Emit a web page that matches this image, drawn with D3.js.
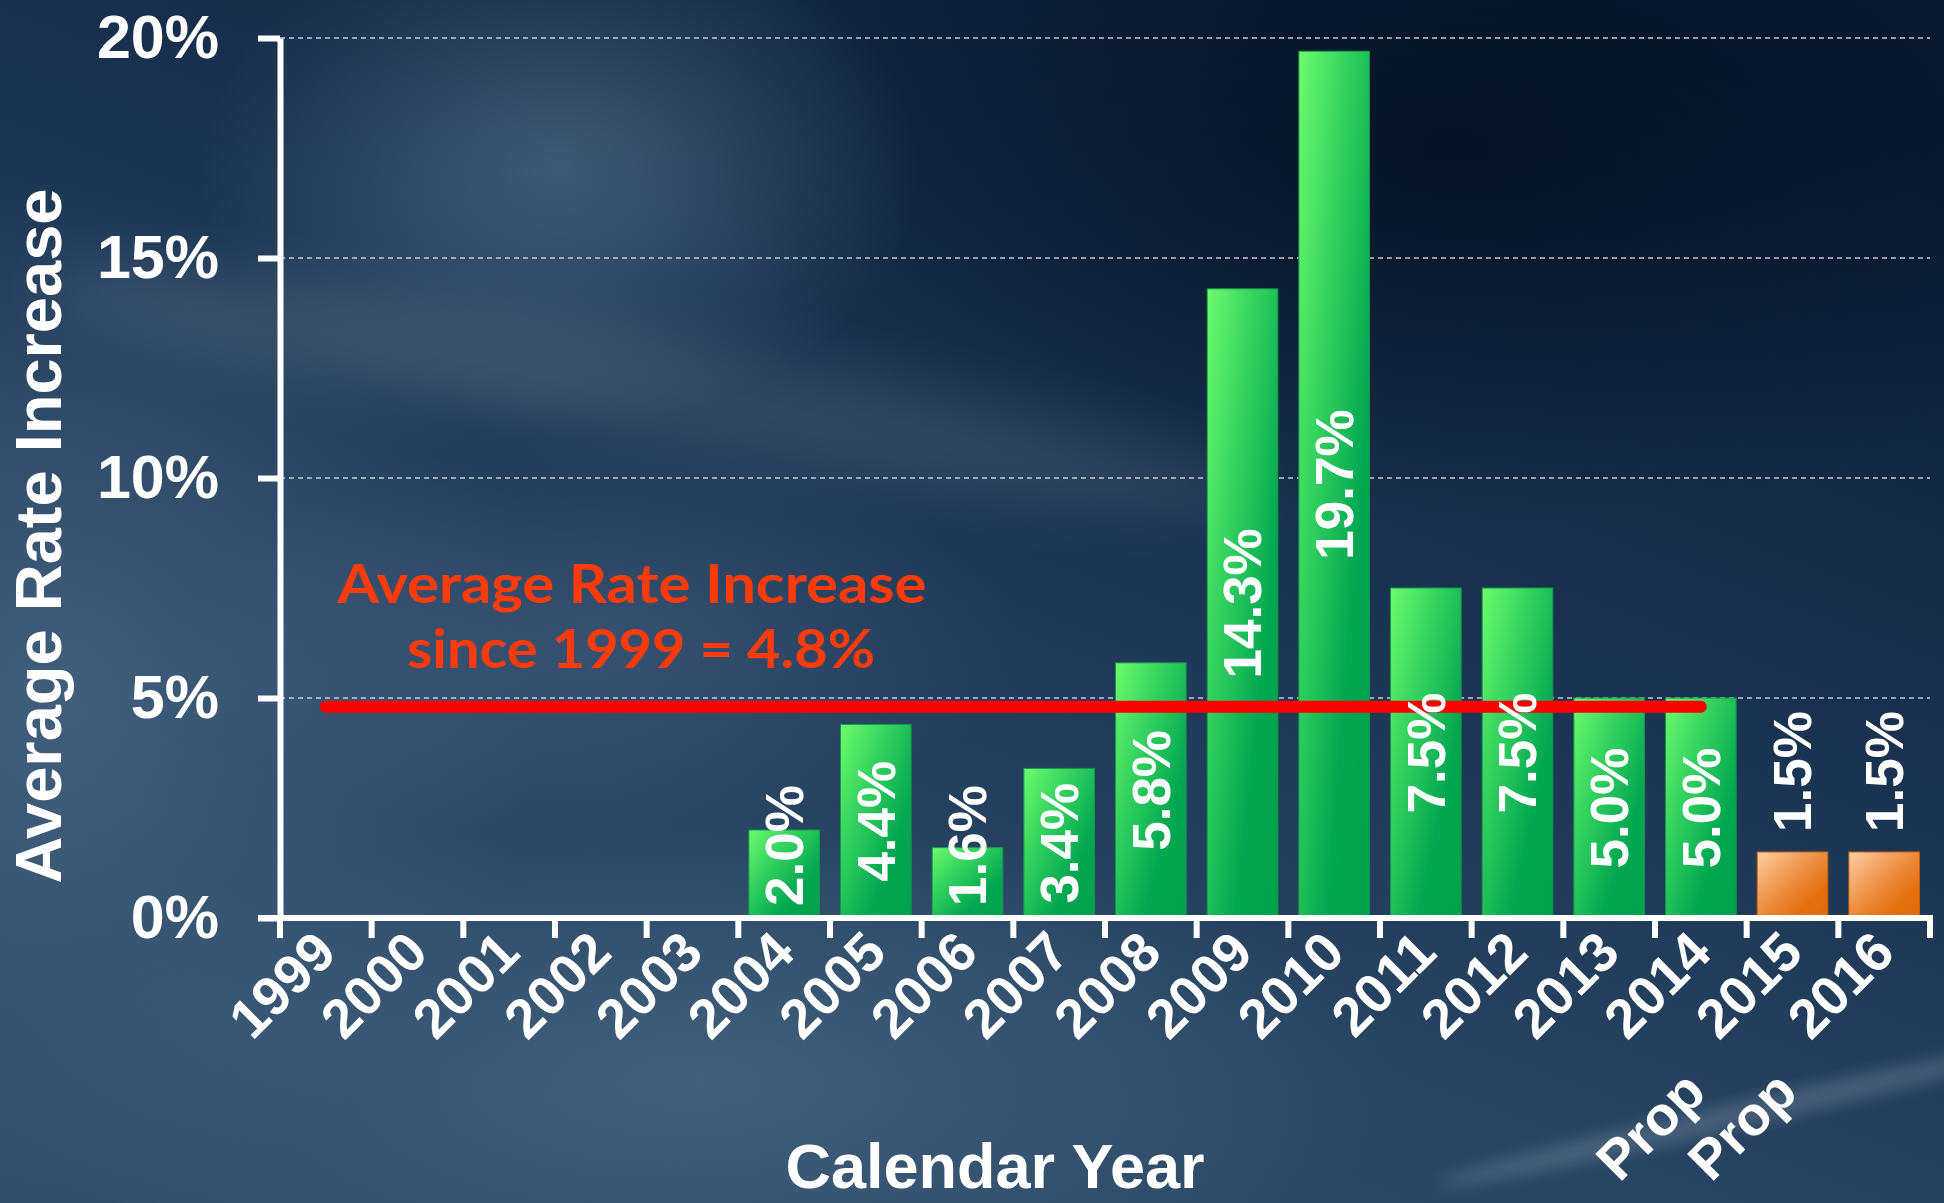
<!DOCTYPE html>
<html><head><meta charset="utf-8">
<script src="https://cdn.jsdelivr.net/npm/d3@7/dist/d3.min.js"></script>
<style>html,body{margin:0;padding:0;background:#1b3350;overflow:hidden}</style>
</head><body>
<svg id="chart" width="1944" height="1203"></svg>
<script>
// ---- data ----
const years = ["1999","2000","2001","2002","2003","2004","2005","2006","2007","2008",
               "2009","2010","2011","2012","2013","2014","Prop 2015","Prop 2016"];
const rateIncrease = [0,0,0,0,0,2.0,4.4,1.6,3.4,5.8,14.3,19.7,7.5,7.5,5.0,5.0,1.5,1.5];
const isProposed = [false,false,false,false,false,false,false,false,false,false,
                    false,false,false,false,false,false,true,true];
const yTicks = [0,5,10,15,20];
const avgRate = 4.8;
const avgFrom = "1999", avgTo = "2014";
const avgLabel = ["Average Rate Increase","since 1999 = 4.8%"];
const yTitle = "Average Rate Increase";
const xTitle = "Calendar Year";

const W = 1944, H = 1203;
const svg = d3.select("#chart");
const defs = svg.append("defs");

// ---- background ----
function radial(id, stops){
  const g = defs.append("radialGradient").attr("id", id);
  stops.forEach(s => g.append("stop").attr("offset", s[0]).attr("stop-color", s[1]).attr("stop-opacity", s[2]));
}
const lg = defs.append("linearGradient").attr("id","bgLin").attr("x1",0.8).attr("y1",0).attr("x2",0.2).attr("y2",1);
[[0,"#0a1c33"],[0.35,"#18304e"],[0.7,"#294564"],[1,"#304c6b"]].forEach(s=>lg.append("stop").attr("offset",s[0]).attr("stop-color",s[1]));
radial("glowA", [[0,"#7d98b3",0.4],[1,"#7d98b3",0]]);
radial("glowB", [[0,"#5d7a98",0.45],[1,"#5d7a98",0]]);
radial("darkA", [[0,"#040f1e",0.75],[1,"#040f1e",0]]);
defs.append("filter").attr("id","blur30").attr("x","-50%").attr("y","-50%").attr("width","200%").attr("height","200%")
  .append("feGaussianBlur").attr("stdDeviation",30);
defs.append("filter").attr("id","blur8").attr("x","-50%").attr("y","-50%").attr("width","200%").attr("height","200%")
  .append("feGaussianBlur").attr("stdDeviation",8);

const bg = svg.append("g");
bg.append("rect").attr("width",W).attr("height",H).attr("fill","url(#bgLin)");
bg.append("ellipse").attr("cx",1450).attr("cy",150).attr("rx",750).attr("ry",380).attr("fill","url(#darkA)");
bg.append("ellipse").attr("cx",560).attr("cy",170).attr("rx",360).attr("ry",260).attr("fill","url(#glowA)");
bg.append("ellipse").attr("cx",60).attr("cy",700).attr("rx",480).attr("ry",520).attr("fill","url(#glowB)");
bg.append("ellipse").attr("cx",600).attr("cy",640).attr("rx",420).attr("ry",200).attr("fill","url(#glowB)").attr("opacity",0.7);
bg.append("ellipse").attr("cx",700).attr("cy",1080).attr("rx",700).attr("ry",260).attr("fill","url(#glowB)");
bg.append("ellipse").attr("cx",650).attr("cy",390).attr("rx",620).attr("ry",55)
  .attr("transform","rotate(10 650 390)").attr("fill","#ffffff").attr("opacity",0.09).attr("filter","url(#blur30)");
bg.append("ellipse").attr("cx",1760).attr("cy",1110).attr("rx",330).attr("ry",12)
  .attr("transform","rotate(-13 1760 1110)").attr("fill","#ffffff").attr("opacity",0.16).attr("filter","url(#blur8)");

// ---- bar gradients ----
const gg = defs.append("linearGradient").attr("id","gGreen").attr("x1",0).attr("y1",0).attr("x2",1).attr("y2",1);
[[0,"#6efb6e"],[0.35,"#33d15f"],[0.7,"#03a651"],[1,"#00a14d"]].forEach(s=>gg.append("stop").attr("offset",s[0]).attr("stop-color",s[1]));
const go = defs.append("linearGradient").attr("id","gOrange").attr("x1",0).attr("y1",0).attr("x2",1).attr("y2",1);
[[0,"#fbd0a6"],[0.45,"#ee9045"],[0.75,"#e3700f"],[1,"#e06a0a"]].forEach(s=>go.append("stop").attr("offset",s[0]).attr("stop-color",s[1]));

// ---- scales ----
const x = d3.scaleBand().domain(years).range([280,1930]).paddingInner(0.23).paddingOuter(0.115);
const y = d3.scaleLinear().domain([0,20]).range([918,38]);
const step = x.step(), x0 = x.range()[0];
const FONT = "'Liberation Sans', Arial, sans-serif";

// ---- gridlines ----
svg.append("g").selectAll("line").data(yTicks.filter(d=>d>0)).join("line")
  .attr("x1",x0).attr("x2",x.range()[1]).attr("y1",d=>y(d)).attr("y2",d=>y(d))
  .attr("stroke","#dfe4ea").attr("stroke-width",1.6).attr("stroke-dasharray","5,4").attr("opacity",0.85);

// ---- bars ----
const data = years.map((d,i)=>({year:d, v:rateIncrease[i], prop:isProposed[i]})).filter(d=>d.v>0);
svg.append("g").selectAll("rect").data(data).join("rect")
  .attr("x",d=>x(d.year)).attr("y",d=>y(d.v))
  .attr("width",x.bandwidth()).attr("height",d=>y(0)-y(d.v))
  .attr("fill",d=>d.prop?"url(#gOrange)":"url(#gGreen)")
  .attr("stroke",d=>d.prop?"#c8600c":"#129a48").attr("stroke-width",1);

// ---- average line ----
svg.append("line")
  .attr("x1",x(avgFrom)+x.bandwidth()/2).attr("x2",x(avgTo)+x.bandwidth()/2)
  .attr("y1",y(avgRate)).attr("y2",y(avgRate))
  .attr("stroke","#ff0000").attr("stroke-width",12).attr("stroke-linecap","round");

// ---- bar labels ----
const fs = 53, cap = 0.716*fs;
const lab = svg.append("g").selectAll("text").data(data).join("text")
  .attr("fill","#fff").attr("font-family",FONT).attr("font-weight","bold").attr("font-size",fs)
  .text(d=>d.v.toFixed(1)+"%");
lab.each(function(d){
  const len = this.getComputedTextLength();
  const cx = x(d.year)+x.bandwidth()/2 + cap/2;
  let cy, anchor;
  if(d.prop){ cy = y(d.v)-20; anchor="start"; }
  else { cy = Math.min((y(d.v)+y(0))/2, y(0)-12-len/2); anchor="middle"; }
  d3.select(this).attr("text-anchor",anchor).attr("transform",`translate(${cx},${cy}) rotate(-90)`);
});

// ---- axes ----
const yAxis = d3.axisLeft(y).tickValues(yTicks).tickFormat(d=>d+"%").tickSize(22).tickSizeOuter(0).tickPadding(39);
const gy = svg.append("g").attr("transform",`translate(${x0},0)`).call(yAxis);
gy.select(".domain").attr("stroke","#fff").attr("stroke-width",6);
gy.selectAll(".tick line").attr("stroke","#fff").attr("stroke-width",6);
gy.selectAll(".tick text").attr("fill","#fff").attr("font-family",FONT).attr("font-weight","bold").attr("font-size",61);

// x axis: line + boundary ticks
const gx = svg.append("g");
gx.append("line").attr("x1",x0-22).attr("x2",x.range()[1]+3).attr("y1",y(0)).attr("y2",y(0))
  .attr("stroke","#fff").attr("stroke-width",6);
gx.selectAll("line.tk").data(d3.range(years.length+1)).join("line").attr("class","tk")
  .attr("x1",i=>x0+i*step).attr("x2",i=>x0+i*step).attr("y1",y(0)).attr("y2",y(0)+20)
  .attr("stroke","#fff").attr("stroke-width",6);
const xl = gx.selectAll("text").data(years).join("text")
  .attr("transform",d=>`translate(${x(d)+x.bandwidth()/2+13},${y(0)+37}) rotate(-45)`)
  .attr("text-anchor","end").attr("fill","#fff").attr("font-family",FONT).attr("font-weight","bold").attr("font-size",55);
xl.each(function(d){
  const parts = d.split(" ");
  const t = d3.select(this);
  if(parts.length>1){
    t.append("tspan").attr("dy",30).text(parts[0]);
    t.append("tspan").attr("dx",30).attr("dy",-30).text(" "+parts[1]);
  } else t.text(d);
});

// ---- titles ----
svg.append("text").attr("transform","translate(61,536) rotate(-90)").attr("text-anchor","middle")
  .attr("fill","#fff").attr("font-family",FONT).attr("font-weight","bold").attr("font-size",65).text(yTitle);
svg.append("text").attr("x",995).attr("y",1188).attr("text-anchor","middle")
  .attr("fill","#fff").attr("font-family",FONT).attr("font-weight","bold").attr("font-size",63).text(xTitle);

// ---- average annotation ----
const ann = svg.append("g").attr("fill","#ff3b0a").attr("font-family","Lato, 'Open Sans', sans-serif").attr("font-weight","bold").attr("font-size",54);
ann.append("text").attr("x",632).attr("y",603).attr("text-anchor","middle").attr("textLength",589).attr("lengthAdjust","spacingAndGlyphs").text(avgLabel[0]);
ann.append("text").attr("x",641).attr("y",668).attr("text-anchor","middle").attr("textLength",468).attr("lengthAdjust","spacingAndGlyphs").text(avgLabel[1]);
</script>
</body></html>
